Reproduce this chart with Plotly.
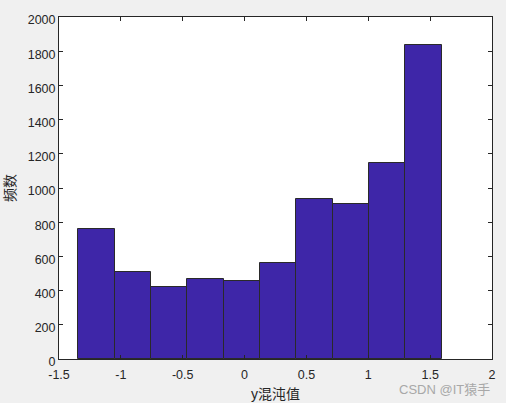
import plotly.graph_objects as go

# Histogram data
bin_edges = [-1.343, -1.049, -0.755, -0.462, -0.168, 0.126, 0.419, 0.713, 1.007, 1.300, 1.594]
counts = [758, 506, 421, 470, 456, 561, 933, 906, 1146, 1836]
x_ticks = [-1.5, -1, -0.5, 0, 0.5, 1, 1.5, 2]
y_ticks = [0, 200, 400, 600, 800, 1000, 1200, 1400, 1600, 1800, 2000]
x_title = "y混沌值"
y_title = "频数"
watermark = "CSDN @IT猿手"

centers = [(a + b) / 2 for a, b in zip(bin_edges[:-1], bin_edges[1:])]
widths = [b - a for a, b in zip(bin_edges[:-1], bin_edges[1:])]

font_family = "Liberation Sans, Arial, Noto Sans CJK SC, sans-serif"
axis_color = "#262626"

fig = go.Figure(
    go.Bar(
        x=centers,
        y=counts,
        width=widths,
        marker=dict(color="#3E26A8", line=dict(color="#2a2a2a", width=1)),
        hoverinfo="x+y",
    )
)

axis_common = dict(
    showgrid=False,
    zeroline=False,
    showline=True,
    linecolor=axis_color,
    linewidth=1,
    mirror="ticks",
    ticks="inside",
    ticklen=4,
    tickcolor=axis_color,
    automargin=False,
    tickfont=dict(family=font_family, size=12.5, color=axis_color),
)

fig.update_layout(
    width=506,
    height=403,
    margin=dict(l=59, r=14, t=17, b=44),
    paper_bgcolor="#F0F0F0",
    plot_bgcolor="#FFFFFF",
    showlegend=False,
    bargap=0,
    xaxis=dict(
        range=[-1.5, 2],
        tickvals=x_ticks,
        ticktext=[f"{v:g}" for v in x_ticks],
        ticklabelstandoff=4,
        title=dict(text=x_title, font=dict(family=font_family, size=14, color=axis_color), standoff=8),
        **axis_common,
    ),
    yaxis=dict(
        range=[0, 2000],
        tickvals=y_ticks,
        ticklabelshift=3,
        title=dict(text=y_title, font=dict(family=font_family, size=14, color=axis_color), standoff=8),
        **axis_common,
    ),
    annotations=[
        dict(
            text=watermark,
            xref="paper", yref="paper",
            x=1.0, y=-0.088,
            xanchor="right", yanchor="middle",
            showarrow=False,
            font=dict(family=font_family, size=13, color="#A8A8A8"),
        )
    ],
)

fig.write_html("out.html", config={"displayModeBar": False},
               post_script="document.body.style.margin='0';")
